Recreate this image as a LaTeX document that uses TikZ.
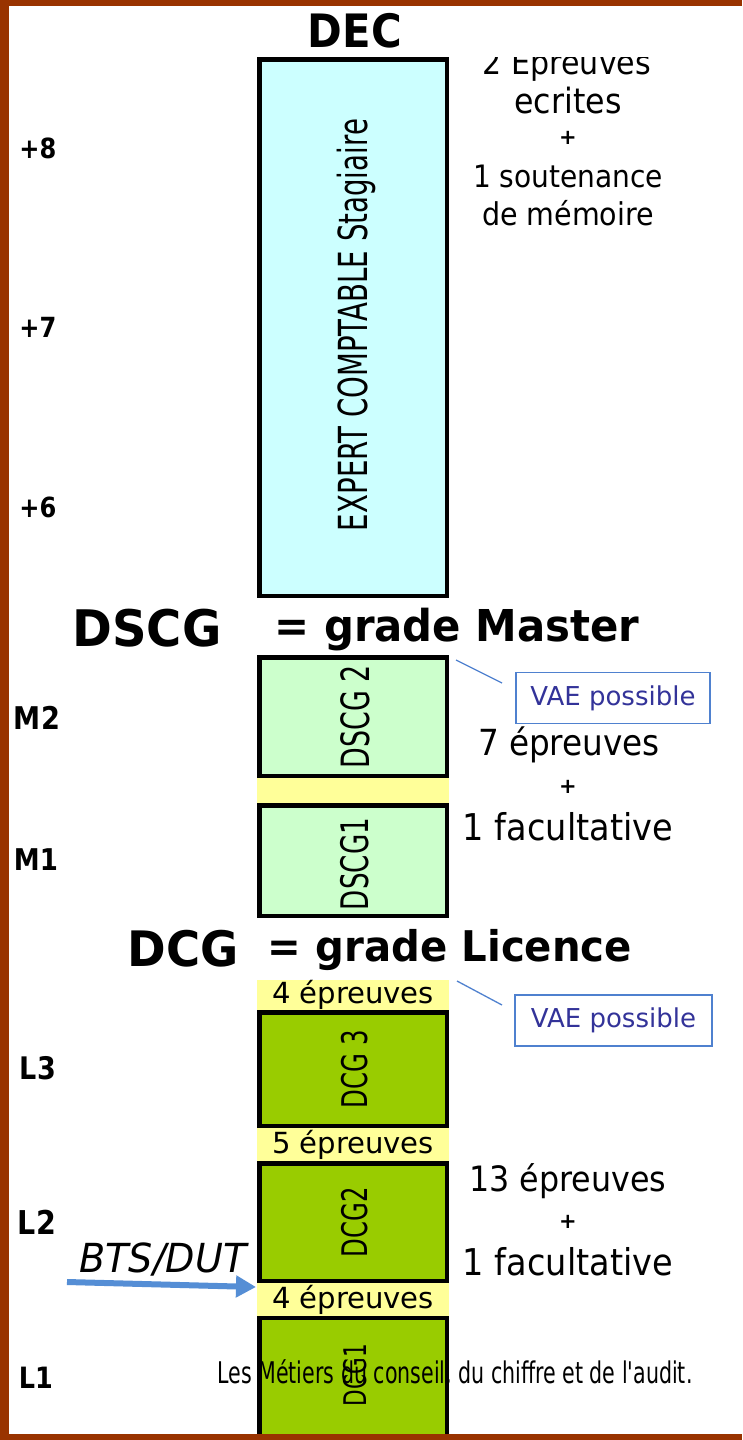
\documentclass[tikz,border=0pt]{standalone}
\usepackage{fontspec}
\setmainfont{DejaVu Sans}
\newfontfamily\footfont{DejaVu Sans}
\usepackage{graphicx}
\usetikzlibrary{arrows.meta}
\definecolor{brd}{HTML}{993300}
\definecolor{cyanf}{HTML}{CCFFFF}
\definecolor{mint}{HTML}{CCFFCC}
\definecolor{lime}{HTML}{99CC00}
\definecolor{yel}{HTML}{FFFF99}
\definecolor{vaeblue}{HTML}{4F81CF}
\definecolor{vaetxt}{HTML}{333399}
\definecolor{arrowblue}{HTML}{558ED5}
\newcommand{\fitw}[2]{\resizebox{#1pt}{!}{#2}}
\newcommand{\fitws}[3]{\scalebox{1}[#2]{\resizebox{#1pt}{!}{#3}}}
\newcommand{\plussign}{{\fontsize{21}{21}\selectfont\bfseries +}}
\begin{document}
\begin{tikzpicture}[x=1pt,y=-1pt,
  box/.style={draw=black,line width=4.5pt,minimum width=187.5pt,inner sep=0pt,outer sep=0pt},
  band/.style={fill=yel,minimum width=192pt,inner sep=0pt,outer sep=0pt},
  lbl/.style={inner sep=0pt,font=\bfseries},
  txt/.style={inner sep=0pt},
  vert/.style={inner sep=0pt,rotate=90},
  vae/.style={draw=vaeblue,line width=1.6pt,minimum width=194pt,minimum height=51pt,inner sep=0pt,text=vaetxt},
  vline/.style={draw=vaeblue,line width=1.3pt},
  bigt/.style={inner sep=0pt,font=\bfseries}
]
\useasboundingbox (0,0) rectangle (742,1440);
\fill[white] (0,0) rectangle (742,1440);

% titles
\node[bigt] (dectitle) at (355,31) {\fitws{94}{1.1}{DEC}};
\node[bigt] (dscgtitle) at (147,628) {\fitws{149}{1.05}{DSCG}};
\node[bigt] (mastertitle) at (457,630) {\fitws{365}{1.05}{= grade Master}};
\node[bigt] (dcgtitle) at (183,949) {\fitws{111}{1.05}{DCG}};
\node[bigt] (licencetitle) at (450,950) {\fitws{364}{1.05}{= grade Licence}};

% left labels
\node[lbl] (p8) at (38,148) {\fitws{37}{1.15}{+8}};
\node[lbl] (p7) at (38,327) {\fitws{37}{1.15}{+7}};
\node[lbl] (p6) at (38,507) {\fitws{37}{1.15}{+6}};
\node[lbl] (m2) at (37,718) {\fitws{46}{1.15}{M2}};
\node[lbl] (m1) at (36,860) {\fitws{44}{1.15}{M1}};
\node[lbl] (l3) at (38,1068) {\fitws{36}{1.15}{L3}};
\node[lbl] (l2) at (37,1222) {\fitws{38}{1.15}{L2}};
\node[lbl] (l1) at (36,1378) {\fitws{34}{1.15}{L1}};

% yellow bands
\node[band,minimum height=25pt] (band1) at (353,790.5) {};
\node[band,minimum height=30pt] (band2) at (353,995) {\fitws{162}{1.0}{4 épreuves}};
\node[band,minimum height=33pt] (band3) at (353,1144.5) {\fitws{162}{1.0}{5 épreuves}};
\node[band,minimum height=33pt] (band4) at (353,1299.5) {\fitws{162}{1.0}{4 épreuves}};

% boxes
\node[box,fill=cyanf,minimum height=536.5pt] (dec) at (353,327.5) {};
\node[vert] (dectext) at (356,325) {\fitws{412}{1.45}{EXPERT COMPTABLE Stagiaire}};
\node[box,fill=mint,minimum height=118.5pt] (dscgtwo) at (353,716.5) {};
\node[vert] (dscgtwotext) at (355,717) {\fitws{103}{1.45}{DSCG 2}};
\node[box,fill=mint,minimum height=110.5pt] (dscgone) at (353,860.5) {};
\node[vert] (dscgonetext) at (355,864) {\fitws{92}{1.45}{DSCG1}};
\node[box,fill=lime,minimum height=113.5pt] (dcgthree) at (353,1069) {};
\node[vert] (dcgthreetext) at (355,1069) {\fitws{78}{1.45}{DCG 3}};
\node[box,fill=lime,minimum height=117.5pt] (dcgtwo) at (353,1222) {};
\node[vert] (dcgtwotext) at (355,1222) {\fitws{70}{1.45}{DCG2}};
\node[box,fill=lime,minimum height=128pt] (dcgone) at (353,1382) {};
\node[vert] (dcgonetext) at (355,1375) {\fitws{62}{1.45}{DCG1}};

% right texts
\begin{scope}
\clip (460,57) rectangle (700,90);
\node[txt] (epr2) at (567,66) {\fitws{168}{1.1}{2 Epreuves}};
\end{scope}
\node[txt] (ecrites) at (568,101) {\fitws{107}{1.1}{ecrites}};
\node[txt] (plusa) at (568,138) {\plussign};
\node[txt] (soutenance) at (568,176) {\fitws{190}{1.1}{1 soutenance}};
\node[txt] (memoire) at (568,213) {\fitws{172}{1.1}{de mémoire}};

\node[txt] (sept) at (569,745) {\fitws{182}{1.1}{7 épreuves}};
\node[txt] (plusb) at (568,787) {\plussign};
\node[txt] (facb) at (568,827) {\fitws{210}{1.1}{1 facultative}};

\node[txt] (treize) at (568,1181) {\fitws{197}{1.1}{13 épreuves}};
\node[txt] (plusc) at (568,1222) {\plussign};
\node[txt] (facc) at (568,1262) {\fitws{210}{1.1}{1 facultative}};

% VAE
\node[vae] (vaeone) at (613,698) {\fitw{165}{VAE possible}};
\coordinate (vaeoneA) at (456,660);
\coordinate (vaeoneB) at (502,683);
\draw[vline] (vaeoneA) -- (vaeoneB);
\node[vae,minimum width=197pt] (vaetwo) at (613.5,1020.5) {\fitw{165}{VAE possible}};
\coordinate (vaetwoA) at (457,981);
\coordinate (vaetwoB) at (502,1005);
\draw[vline] (vaetwoA) -- (vaetwoB);

% BTS/DUT
\node[txt] (bts) at (163,1259) {\fitws{167}{1.05}{\itshape BTS/DUT}};
\coordinate (btsstart) at (67,1282);
\coordinate (btsend) at (256,1287);
\draw[arrowblue,line width=6pt,-{Triangle[length=20pt,width=21pt]}] (btsstart) -- (btsend);

% footer
\node[txt] (footer) at (455,1373) {\fitws{475}{1.45}{\footfont Les Métiers du conseil, du chiffre et de l'audit.}};

% frame
\fill[brd] (0,0) rectangle (742,6);
\fill[brd] (0,0) rectangle (9,1440);
\fill[brd] (0,1434) rectangle (742,1440);
\end{tikzpicture}
\end{document}
